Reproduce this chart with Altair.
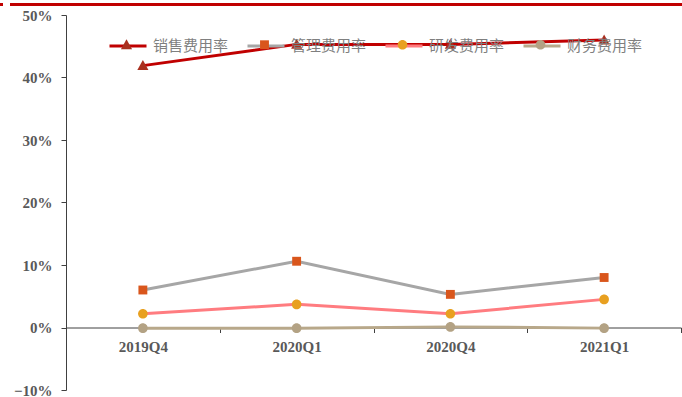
import altair as alt
import pandas as pd

# Quarterly expense ratios (%)
quarters = ["2019Q4", "2020Q1", "2020Q4", "2021Q1"]
series_names = ["销售费用率", "管理费用率", "研发费用率", "财务费用率"]
selling = [41.9, 45.3, 45.3, 46.0]
admin = [6.0, 10.6, 5.3, 8.0]
rnd = [2.2, 3.7, 2.2, 4.5]
finance = [-0.1, -0.1, 0.1, -0.1]
y_ticks = [-0.1, 0.0, 0.1, 0.2, 0.3, 0.4, 0.5]

line_colors = ["#C00000", "#A6A6A6", "#FF7C80", "#B8A88A"]
marker_colors = ["#A9301F", "#D9561C", "#E8A020", "#B3A284"]
# marker outlines: triangle, square, circle, circle
marker_shapes = [
    "M0,-0.3L0.3,0.24L-0.3,0.24Z",
    "M-0.24,-0.24H0.24V0.24H-0.24Z",
    "M0.26,0A0.26,0.26 0 1,1 -0.26,0A0.26,0.26 0 1,1 0.26,0Z",
    "M0.26,0A0.26,0.26 0 1,1 -0.26,0A0.26,0.26 0 1,1 0.26,0Z",
]
# marker keys are kept distinct from line keys so each gets its own legend
marker_keys = [n + " " for n in series_names]

rows = []
for name, key, vals in zip(series_names, marker_keys, [selling, admin, rnd, finance]):
    for q, v in zip(quarters, vals):
        rows.append({"quarter": q, "series": name, "marker": key, "value": v / 100})
df = pd.DataFrame(rows)

SYM = 1369
ITEM_STEP = 138  # horizontal distance between legend entries
legend_common = dict(
    orient="none",
    legendX=42,
    legendY=11,
    direction="horizontal",
    columns=4,
    title=None,
    symbolSize=SYM,
    labelOffset=5,
    padding=0,
    labelFont="Noto Sans CJK SC",
    labelFontSize=15,
    labelColor="#7F7F7F",
    labelLimit=200,
)

x_enc = alt.X(
    "quarter:N",
    sort=quarters,
    bandPosition=0.5,
    scale=alt.Scale(type="band", domain=quarters, paddingInner=0, paddingOuter=0),
    axis=alt.Axis(
        title=None,
        labelAngle=0,
        offset=-62.5,
        tickBand="extent",
        tickSize=5,
        labelPadding=7,
        labelFont="Liberation Serif",
        labelFontWeight="bold",
        labelFontSize=15,
        labelColor="#595959",
        domainColor="#404040",
        tickColor="#404040",
        grid=False,
    ),
)
y_enc = alt.Y(
    "value:Q",
    scale=alt.Scale(domain=[-0.1, 0.5], nice=False, zero=False),
    axis=alt.Axis(
        title=None,
        values=y_ticks,
        format=".0%",
        tickSize=5,
        labelPadding=9,
        labelFont="Liberation Serif",
        labelFontWeight="bold",
        labelFontSize=15,
        labelColor="#595959",
        domainColor="#404040",
        tickColor="#404040",
        grid=False,
    ),
)

lines = alt.Chart(df).mark_line(strokeWidth=3).encode(
    x=x_enc,
    y=y_enc,
    stroke=alt.Stroke(
        "series:N",
        sort=series_names,
        scale=alt.Scale(domain=series_names, range=line_colors),
        legend=alt.Legend(
            symbolType="stroke", symbolStrokeWidth=3, zindex=0,
            columnPadding=12, **legend_common
        ),
    ),
)

# marker legend: symbols only, spaced to sit on top of the line legend
point_legend = alt.Legend(
    symbolStrokeWidth=0, zindex=1, labelExpr="''",
    columnPadding=ITEM_STEP - 37 - 5, **legend_common
)
points = alt.Chart(df).mark_point(filled=True, opacity=1, size=SYM, strokeWidth=0).encode(
    x=x_enc,
    y=y_enc,
    fill=alt.Fill(
        "marker:N",
        sort=marker_keys,
        scale=alt.Scale(domain=marker_keys, range=marker_colors),
        legend=point_legend,
    ),
    shape=alt.Shape(
        "marker:N",
        sort=marker_keys,
        scale=alt.Scale(domain=marker_keys, range=marker_shapes),
        legend=point_legend,
    ),
)

# red header band across the top of the page
band_df = pd.DataFrame({"k": [0]})
header = alt.Chart(band_df).mark_rule(color="#C00000", strokeWidth=3).encode(
    x=alt.value(-56), x2=alt.value(616), y=alt.value(-10.5)
)
header_tab = alt.Chart(band_df).mark_rule(color="#C00000", strokeWidth=3).encode(
    x=alt.value(-66), x2=alt.value(-63), y=alt.value(-10.5)
)

chart = (
    alt.layer(lines, points, header, header_tab)
    .resolve_scale(x="shared", y="shared")
    .properties(
        width=615,
        height=375,
        autosize=alt.AutoSizeParams(type="none"),
        padding={"left": 66, "top": 15, "right": 1, "bottom": 7},
        background="white",
    )
    .configure_view(stroke=None)
)

chart.save("out.html", embed_options={"renderer": "svg", "actions": False})
